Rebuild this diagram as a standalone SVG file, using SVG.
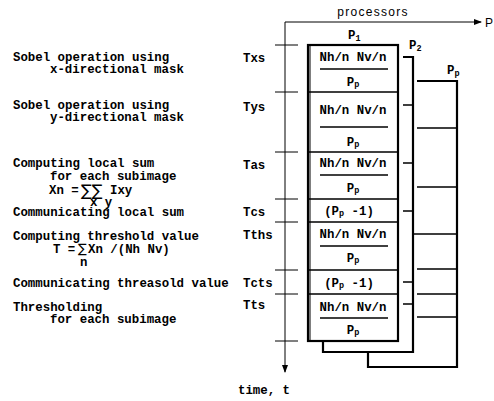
<svg xmlns="http://www.w3.org/2000/svg" width="494" height="401" viewBox="0 0 494 401">
<style>
.t{font-family:"Liberation Mono","DejaVu Sans Mono",monospace;font-size:12.4px;font-weight:bold;fill:#000}
.c{text-anchor:middle}
.g{font-family:"DejaVu Sans","Liberation Sans",sans-serif;font-weight:normal;fill:#000}
.s{font-family:"Liberation Sans",Arial,sans-serif;font-size:12px;fill:#000}
.ax{stroke:#000;stroke-width:1;fill:none}
.box{stroke:#000;stroke-width:2.2;fill:#fff}
.row{stroke:#000;stroke-width:1.5;fill:none}
.bar{stroke:#000;stroke-width:1.6}
.sub{font-size:8.5px}
</style>
<defs>
<marker id="ah" markerWidth="8" markerHeight="6" refX="7" refY="3" orient="auto" markerUnits="userSpaceOnUse">
<path d="M0,0 L8,3 L0,6 Z" fill="#000"/>
</marker>
</defs>
<rect width="494" height="401" fill="#fff"/>

<g id="axes">
<path class="ax" d="M285,22 H481" marker-end="url(#ah)"/>
<path class="ax" d="M285,22 V372" marker-end="url(#ah)"/>
<path class="ax" d="M275,45 H298 M275,92 H298 M275,152 H298 M275,199 H298 M275,222 H298 M275,270 H298 M275,294 H298 M275,341 H298"/>
<text class="s" x="373" y="16" text-anchor="middle" letter-spacing="1.3">processors</text>
<text class="s" x="485" y="27">P</text>
<text class="t" x="238" y="394">time, t</text>
</g>

<g id="labels">
<text class="t" x="13" y="61">Sobel operation using</text>
<text class="t" x="50" y="73">x-directional mask</text>
<text class="t" x="13" y="109">Sobel operation using</text>
<text class="t" x="50" y="121">y-directional mask</text>
<text class="t" x="13" y="167">Computing local sum</text>
<text class="t" x="50" y="180">for each subimage</text>
<text class="t" x="49" y="194">Xn =</text>
<text class="g" x="81" y="196" font-size="16">∑∑</text>
<text class="t" x="110" y="194">Ixy</text>
<text class="t" x="90" y="206">x y</text>
<text class="t" x="13" y="216">Communicating local sum</text>
<text class="t" x="13" y="240">Computing threshold value</text>
<text class="t" x="53" y="253">T =</text>
<text class="g" x="78" y="253" font-size="13">∑</text>
<text class="t" x="88" y="253">Xn /(Nh Nv)</text>
<text class="t" x="80" y="266">n</text>
<text class="t" x="13" y="287">Communicating threasold value</text>
<text class="t" x="13" y="311">Thresholding</text>
<text class="t" x="50" y="323">for each subimage</text>
<text class="t" x="243" y="62">Txs</text>
<text class="t" x="243" y="111">Tys</text>
<text class="t" x="243" y="169">Tas</text>
<text class="t" x="243" y="216">Tcs</text>
<text class="t" x="243" y="239">Tths</text>
<text class="t" x="243" y="287">Tcts</text>
<text class="t" x="243" y="309">Tts</text>
</g>

<g id="Pp">
<path class="box" d="M417,81 H457 V367 H368 V352" fill="none"/>
<path class="row" d="M417,128 H457 M417,187 H457 M403,234 H457 M417,269 H457 M417,294 H457 M417,317 H457"/>
<text class="t" x="447" y="74">P<tspan class="sub" dy="2">p</tspan></text>
</g>

<g id="P2">
<path class="box" d="M403,57 H413 V352 H323 V341" fill="none"/>
<path class="row" d="M403,105 H413 M403,163 H413 M403,211 H413 M403,282 H413 M403,304 H413"/>
<text class="t" x="409" y="49">P<tspan class="sub" dy="2">2</tspan></text>
</g>

<g id="P1">
<rect class="box" x="308" y="45" width="90" height="296"/>
<path class="row" d="M308,92 H398 M308,152 H398 M308,199 H398 M308,222 H398 M308,270 H398 M308,294 H398"/>
<line x1="310" y1="46" x2="310" y2="340" stroke="#000" stroke-width="1"/>
<text class="t" x="348" y="39">P<tspan class="sub" dy="2">1</tspan></text>
<text class="t c" x="353" y="61">Nh/n Nv/n</text>
<line class="bar" x1="320" y1="69" x2="388" y2="69"/>
<text class="t c" x="353" y="86">P<tspan class="sub" dy="1">p</tspan></text>
<text class="t c" x="353" y="114">Nh/n Nv/n</text>
<line class="bar" x1="320" y1="127" x2="388" y2="127"/>
<text class="t c" x="353" y="146">P<tspan class="sub" dy="1">p</tspan></text>
<text class="t c" x="353" y="167">Nh/n Nv/n</text>
<line class="bar" x1="320" y1="175" x2="388" y2="175"/>
<text class="t c" x="353" y="192">P<tspan class="sub" dy="1">p</tspan></text>
<text class="t c" x="349" y="215">(P<tspan class="sub" dy="1">p</tspan><tspan dy="-1"> -1)</tspan></text>
<text class="t c" x="353" y="238">Nh/n Nv/n</text>
<line class="bar" x1="320" y1="246" x2="388" y2="246"/>
<text class="t c" x="353" y="262">P<tspan class="sub" dy="1">p</tspan></text>
<text class="t c" x="349" y="287">(P<tspan class="sub" dy="1">p</tspan><tspan dy="-1"> -1)</tspan></text>
<text class="t c" x="353" y="311">Nh/n Nv/n</text>
<line class="bar" x1="320" y1="318" x2="388" y2="318"/>
<text class="t c" x="353" y="334">P<tspan class="sub" dy="1">p</tspan></text>
</g>
</svg>
